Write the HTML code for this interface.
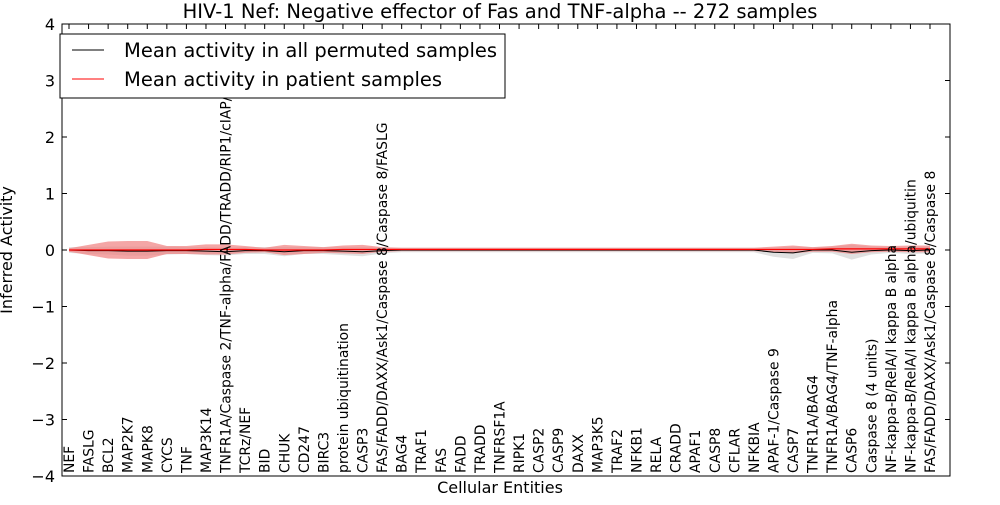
<!DOCTYPE html>
<html><head><meta charset="utf-8"><style>
body{margin:0;background:#fff;font-family:"Liberation Sans",sans-serif}
svg text{font-family:"DejaVu Sans","Liberation Sans",sans-serif}
</style></head><body>
<svg id="c" width="1000" height="500"></svg>
<script>
const categories=["NEF","FASLG","BCL2","MAP2K7","MAPK8","CYCS","TNF","MAP3K14","TNFR1A/Caspase 2/TNF-alpha/FADD/TRADD/RIP1/cIAP/TRAF2","TCRz/NEF","BID","CHUK","CD247","BIRC3","protein ubiquitination","CASP3","FAS/FADD/DAXX/Ask1/Caspase 8/Caspase 8/FASLG","BAG4","TRAF1","FAS","FADD","TRADD","TNFRSF1A","RIPK1","CASP2","CASP9","DAXX","MAP3K5","TRAF2","NFKB1","RELA","CRADD","APAF1","CASP8","CFLAR","NFKBIA","APAF-1/Caspase 9","CASP7","TNFR1A/BAG4","TNFR1A/BAG4/TNF-alpha","CASP6","Caspase 8 (4 units)","NF-kappa-B/RelA/I kappa B alpha","NF-kappa-B/RelA/I kappa B alpha/ubiquitin","FAS/FADD/DAXX/Ask1/Caspase 8/Caspase 8"];
const patientMean=[0,0,0,0,0,0,0,0.01,0.01,0.01,0,0,0,0,0.01,0.01,0.01,0.01,0.01,0.01,0.01,0.01,0.01,0.01,0.01,0.01,0.01,0.01,0.01,0.01,0.01,0.01,0.01,0.01,0.01,0.01,0.01,0.01,0.01,0.02,0.02,0.02,0.02,0.02,0.02];
const patientSd=[0.03,0.09,0.15,0.16,0.16,0.07,0.07,0.09,0.09,0.06,0.04,0.09,0.07,0.05,0.07,0.08,0.04,0.03,0.03,0.03,0.03,0.03,0.03,0.03,0.03,0.03,0.03,0.03,0.03,0.03,0.03,0.03,0.03,0.03,0.03,0.03,0.05,0.07,0.04,0.05,0.09,0.06,0.05,0.06,0.06];
const permMean=[0,-0.01,-0.01,-0.02,-0.02,-0.01,-0.01,-0.02,-0.03,-0.01,-0.01,-0.03,-0.01,-0.01,-0.02,-0.03,-0.01,0,0,0,0,0,0,0,0,0,0,0,0,0,0,0,0,0,0,0,-0.04,-0.05,0,0,-0.04,-0.01,0,-0.01,0];
const permSd=[0.05,0.06,0.07,0.08,0.08,0.07,0.06,0.07,0.07,0.06,0.06,0.08,0.06,0.06,0.07,0.08,0.05,0.04,0.04,0.04,0.04,0.04,0.04,0.04,0.04,0.04,0.04,0.04,0.04,0.04,0.04,0.04,0.04,0.04,0.04,0.04,0.08,0.11,0.05,0.06,0.13,0.07,0.05,0.06,0.06];
const yTicks=[-4,-3,-2,-1,0,1,2,3,4];
const L=62,R=950,T=24,B=476;
const x=i=>69+i*(930-69)/(categories.length-1);
const y=v=>B-(v+4)/8*(B-T);
const svg=document.getElementById('c');const NS='http://www.w3.org/2000/svg';
function mk(t,a,txt){const e=document.createElementNS(NS,t);for(const k in a)e.setAttribute(k,a[k]);if(txt!==undefined)e.textContent=txt;svg.appendChild(e);return e;}
function band(m,s){let up=m.map((v,i)=>x(i)+','+y(v+s[i]));let dn=m.map((v,i)=>x(i)+','+y(v-s[i])).reverse();return up.concat(dn).join(' ');}
let e;
e=mk('polygon',{points:band(permMean,permSd),fill:'#cccccc','fill-opacity':0.6});

e=mk('polygon',{points:band(patientMean,patientSd),fill:'#f08080','fill-opacity':0.7});

e=mk('polyline',{points:permMean.map((v,i)=>x(i)+','+y(v)).join(' '),fill:'none',stroke:'#000','stroke-width':1});

e=mk('polyline',{points:patientMean.map((v,i)=>x(i)+','+y(v)).join(' '),fill:'none',stroke:'#ff0000','stroke-width':1.2});

e=mk('rect',{x:L,y:T,width:R-L,height:B-T,fill:'none',stroke:'#000'});

yTicks.forEach(v=>{mk('line',{x1:L,x2:L+5,y1:y(v),y2:y(v),stroke:'#000'});mk('line',{x1:R-5,x2:R,y1:y(v),y2:y(v),stroke:'#000'});
e=mk('text',{x:L-7,y:y(v)+6,'text-anchor':'end','font-size':16},(v<0?'\u2212':'')+Math.abs(v));
});
categories.forEach((c,i)=>{mk('line',{x1:x(i),x2:x(i),y1:T,y2:T+5,stroke:'#000'});
e=mk('text',{transform:`translate(${x(i)+5},${B-3}) rotate(-90)`,'font-size':13.9},c);
});
e=mk('text',{x:500,y:18,'text-anchor':'middle','font-size':19.5},'HIV-1 Nef: Negative effector of Fas and TNF-alpha -- 272 samples');

e=mk('text',{x:500,y:493,'text-anchor':'middle','font-size':16},'Cellular Entities');

e=mk('text',{transform:'translate(12,250) rotate(-90)','text-anchor':'middle','font-size':16},'Inferred Activity');

e=mk('rect',{x:60,y:34,width:445,height:64,fill:'#fff',stroke:'#000'});

mk('line',{x1:72,x2:104,y1:50,y2:50,stroke:'#000'});
e=mk('text',{x:124,y:57,'font-size':19.5},'Mean activity in all permuted samples');

mk('line',{x1:72,x2:104,y1:79,y2:79,stroke:'#ff0000'});
e=mk('text',{x:124,y:86,'font-size':19.5},'Mean activity in patient samples');

</script></body></html>
